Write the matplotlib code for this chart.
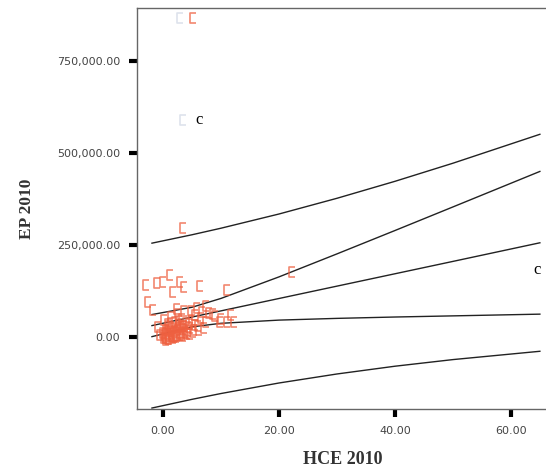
"""EP 2010 against HCE 2010 with linear fit, mean CI and individual PI bands."""
import matplotlib

matplotlib.use("Agg")
import matplotlib.pyplot as plt
from matplotlib.path import Path
from matplotlib.ticker import FuncFormatter

# observed cases (HCE 2010, EP 2010)
hce = [5.2, 3.4, 22.2,
       -3.0, -1.0, 1.2, 0.0, 2.9, 1.8, 6.4, 11.0, -2.5, -1.7, 3.6,
       9.8, 11.0, 12.2, 7.4, 8.6, 11.8,
       -0.5, 0.0, 0.3, 0.5, 0.8, 1.0, 1.2, 1.5, 1.8, 2.0, 2.2, 2.5, 2.8, 3.0,
       3.2, 3.5, 3.8, 4.0, 4.3, 4.6, 5.0, 5.3, 5.6, 6.0, 6.5, 7.0, 7.5, 8.0,
       0.2, 1.4, 2.6, 3.6, 4.8, -0.8, 0.6, 1.9, 2.4, 5.8, 6.8, 9.0, 10.0,
       1.1, 2.1, 3.3, 4.4, 0.9, 2.7,
       0.1, 0.4, 0.7, 1.0, 1.3, 1.6, 2.0, 2.3, 2.9, 3.1, 3.4, 3.9, 4.2, 4.7,
       5.1, 5.5, 6.2, 0.5, 1.7, 2.2, 3.7, 4.5, 1.3, 2.8,
       0.8, 1.5, 2.4, 3.2, 4.0, 1.9, 2.6, 3.5]
ep = [866000, 296000, 176000,
      141000, 146000, 168000, 150000, 150000, 123000, 138000, 128000, 95000, 73000, 135000,
      42000, 42000, 42000, 85000, 62000, 60000,
      5000, 12000, 2000, 20000, 8000, 30000, 15000, 4000, 25000, 40000, 10000, 18000, 33000, 6000,
      50000, 22000, 14000, 38000, 28000, 9000, 45000, 19000, 60000, 30000, 52000, 24000, 40000, 65000,
      45000, 55000, 62000, 70000, 72000, 28000, -3000, 1000, 75000, 80000, 68000, 58000, 48000,
      -6000, 3000, 11000, 16000, 36000, 26000,
      -2000, 7000, 14000, 3000, 21000, 9000, 17000, 6000, 12000, 27000, 4000, 20000, 8000, 24000,
      13000, 32000, 18000, -8000, -4000, 0, 31000, 35000, 38000, 44000,
      -5000, -1000, 2000, 5000, 10000, 13000, 23000, 29000]

# labelled cases
faint_hce = [3.0, 3.5]
faint_ep = [866000, 590000]
case_labels = ["c", "c"]
label_hce = [6.2, 64.5]
label_ep = [590000, 182000]

# fitted line and interval bands, read along HCE
band_x = [-1.9, 5, 10, 20, 30, 40, 50, 65]
fit = [31000, 54200, 71000, 104600, 138200, 171800, 205400, 256000]
ci_upper = [61000, 80800, 104800, 163300, 225800, 289300, 353400, 449900]
ci_lower = [1000, 27600, 37200, 45900, 50600, 54300, 57400, 62100]
pi_upper = [255000, 277800, 295600, 334200, 376900, 423000, 472200, 550800]
pi_lower = [-193000, -169400, -153600, -125000, -100500, -79400, -61400, -38800]

x_ticks = [0, 20, 40, 60]
y_ticks = [0, 250000, 500000, 750000]

bracket = Path([(0.5, 1.0), (-0.5, 1.0), (-0.5, -1.0), (0.5, -1.0)],
               [Path.MOVETO, Path.LINETO, Path.LINETO, Path.LINETO])

fig = plt.figure(figsize=(5.46, 4.70), dpi=100)
ax = fig.add_axes([137 / 546, 61 / 470, 411 / 546, 401 / 470])

for band in (pi_upper, ci_upper, fit, ci_lower, pi_lower):
    ax.plot(band_x, band, color="#222222", lw=1.0, zorder=2)

ax.plot(faint_hce, faint_ep, ls="none", marker=bracket, ms=7.5, mfc="none",
        mec="#c8d0e0", mew=1.2, alpha=0.6, zorder=3)
ax.plot(hce, ep, ls="none", marker=bracket, ms=7.5, mfc="none",
        mec="#ee6040", mew=1.2, alpha=0.75, zorder=3)

for lab, lx, ly in zip(case_labels, label_hce, label_ep):
    ax.text(lx, ly, lab, family="Liberation Serif", fontsize=12, color="black",
            ha="center", va="center", zorder=4)

ax.set_xlim(-4.48, 66.4)
ax.set_ylim(-195650, 894000)
ax.set_xticks(x_ticks)
ax.set_yticks(y_ticks)
ax.xaxis.set_major_formatter(FuncFormatter(lambda v, _: f"{v:,.2f}"))
ax.yaxis.set_major_formatter(FuncFormatter(lambda v, _: f"{v:,.2f}"))
ax.tick_params(direction="out", length=6, width=3, color="black",
               labelsize=8, labelcolor="#444444", pad=6)

for side in ("left", "bottom", "top"):
    ax.spines[side].set_color("#666666")
    ax.spines[side].set_linewidth(1.0)
ax.spines["right"].set_visible(False)

ax.set_xlabel("HCE 2010", family="Liberation Serif", fontweight="bold",
              fontsize=13, color="#333333", labelpad=11)
ax.set_ylabel("EP 2010", family="Liberation Serif", fontweight="bold",
              fontsize=12.5, color="#333333", labelpad=16)

fig.savefig("out.png", dpi=100)
plt.close(fig)
